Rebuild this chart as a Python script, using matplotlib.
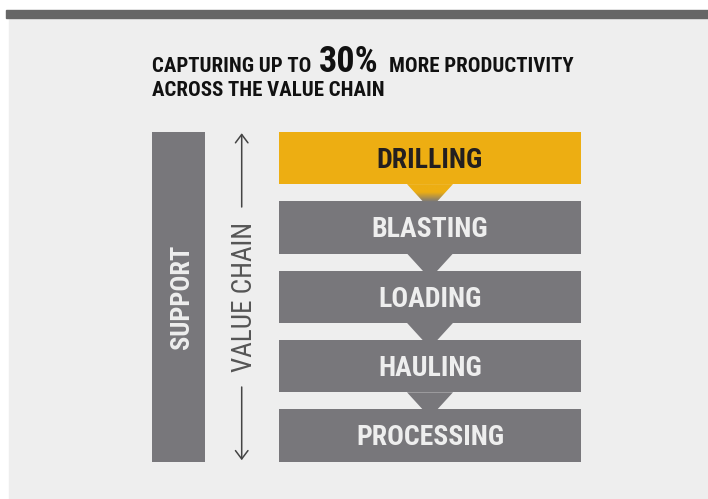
import numpy as np
import matplotlib
matplotlib.use('Agg')
import matplotlib.pyplot as plt
from matplotlib import font_manager as fm
from matplotlib.patches import Rectangle, Polygon, FancyArrowPatch
from matplotlib.colors import LinearSegmentedColormap

# ---------------- data ----------------
stages = ['DRILLING', 'BLASTING', 'LOADING', 'HAULING', 'PROCESSING']
highlight = 'DRILLING'
title_pre = 'CAPTURING UP TO'
title_big = '30%'
title_post = 'MORE PRODUCTIVITY'
title_line2 = 'ACROSS THE VALUE CHAIN'
side_label = 'SUPPORT'
axis_label = 'VALUE CHAIN'

# ---------------- style ----------------
YELLOW = '#EDAE12'
GRAY = '#78777B'
BG = '#EEEEEE'
BAR = '#666666'

names = {f.name for f in fm.fontManager.ttflist}
FONT = 'Liberation Sans'
for cand in ['Roboto Condensed', 'Liberation Sans Narrow', 'Open Sans Condensed']:
    if cand in names:
        FONT = cand
        break

def px(pt):
    return pt * 100 / 72.0

CAP = 0.711  # cap height / em

fig = plt.figure(figsize=(7.08, 4.99), dpi=100, facecolor='white')
ax = fig.add_axes([0, 0, 1, 1])
ax.set_xlim(0, 708)
ax.set_ylim(499, 0)
ax.axis('off')

# panel background and top rule
ax.add_patch(Rectangle((9, 17.5), 699, 482, color=BG, zorder=0))
ax.add_patch(Rectangle((5.5, 10), 702.5, 7.5, color=BAR, zorder=1))

# ---------------- title ----------------
fig.canvas.draw()
r = fig.canvas.get_renderer()
inv = ax.transData.inverted()

t_small = 15
t_big = 26
t1 = ax.text(151.7, 72, title_pre, fontsize=t_small, fontweight='bold',
             family=FONT, color='#111111', va='baseline', ha='left')
x_end = inv.transform(t1.get_window_extent(r).get_points())[1][0]
t2 = ax.text(x_end + 8, 72, title_big, fontsize=t_big, fontweight='bold',
             family=FONT, color='#111111', va='baseline', ha='left')
x_end = inv.transform(t2.get_window_extent(r).get_points())[1][0]
ax.text(x_end + 10, 72, title_post, fontsize=t_small, fontweight='bold',
        family=FONT, color='#111111', va='baseline', ha='left')
ax.text(151.7, 96, title_line2, fontsize=t_small, fontweight='bold',
        family=FONT, color='#111111', va='baseline', ha='left')

# ---------------- value chain boxes ----------------
box_x0, box_x1 = 279.3, 580.7
top0 = 131.7
box_h = 52.4
gap = 17.0
cx = (box_x0 + box_x1) / 2
tri_top_w, tri_bot_w = 46, 14
box_fs = 20

grad_cmap = LinearSegmentedColormap.from_list(
    'g', [(0, YELLOW), (0.45, YELLOW), (1, GRAY)])

for i, name in enumerate(stages):
    y0 = top0 + i * (box_h + gap)
    col = YELLOW if name == highlight else GRAY
    ax.add_patch(Rectangle((box_x0, y0), box_x1 - box_x0, box_h,
                           facecolor=col, edgecolor='none', zorder=2))
    tc = '#231F20' if name == highlight else '#EEEEEE'
    ax.text(cx, y0 + box_h / 2 + px(box_fs) * CAP / 2, name, fontsize=box_fs,
            fontweight='bold', family=FONT, color=tc, ha='center',
            va='baseline', zorder=4)
    if i < len(stages) - 1:
        yb = y0 + box_h
        poly = Polygon([(cx - tri_top_w / 2, yb), (cx + tri_top_w / 2, yb),
                        (cx + tri_bot_w / 2, yb + gap + 0.5),
                        (cx - tri_bot_w / 2, yb + gap + 0.5)],
                       closed=True, facecolor=col, edgecolor='none', zorder=3)
        ax.add_patch(poly)
        if name == highlight:
            poly.set_facecolor('none')
            grad = np.linspace(0, 1, 64).reshape(-1, 1)
            im = ax.imshow(grad, cmap=grad_cmap, origin='upper',
                           extent=(cx - tri_top_w / 2, cx + tri_top_w / 2,
                                   yb + gap + 0.5, yb),
                           aspect='auto', zorder=3, interpolation='bilinear')
            im.set_clip_path(poly)

bottom = top0 + len(stages) * box_h + (len(stages) - 1) * gap

# ---------------- support bar ----------------
ax.add_patch(Rectangle((152.3, top0), 52.7, bottom - top0, facecolor=GRAY,
                       edgecolor='none', zorder=2))
ax.text(189.3, (top0 + bottom) / 2, side_label, fontsize=19, fontweight='bold',
        family=FONT, color='#EEEEEE', rotation=90, rotation_mode='anchor',
        ha='center', va='baseline', zorder=4)

# ---------------- value chain arrow ----------------
ax_x = 241.7
ax.text(251.7, (top0 + bottom) / 2 + 0.5, axis_label, fontsize=19.5,
        family=FONT, color='#555555', rotation=90, rotation_mode='anchor',
        ha='center', va='baseline', zorder=4)
arrow_kw = dict(arrowstyle='->,head_width=0.45,head_length=0.6',
                color='#444444', lw=1.1, shrinkA=0, shrinkB=0,
                mutation_scale=10, zorder=4)
ax.add_patch(FancyArrowPatch((ax_x, 207), (ax_x, top0 + 1.5), **arrow_kw))
ax.add_patch(FancyArrowPatch((ax_x, 387), (ax_x, bottom - 1.5), **arrow_kw))

ax.set_xlim(0, 708)
ax.set_ylim(499, 0)

fig.savefig('out.png', dpi=100, facecolor='white')
